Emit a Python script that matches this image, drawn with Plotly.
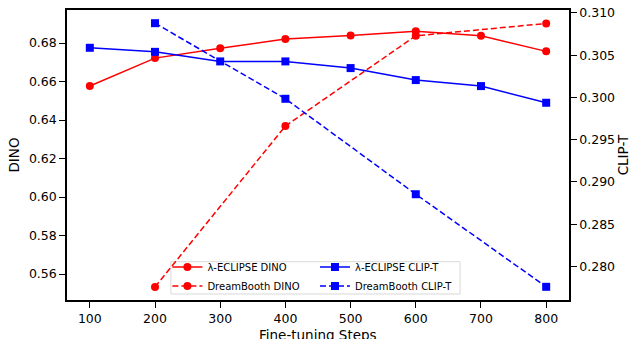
import plotly.graph_objects as go

steps_all = [100, 200, 300, 400, 500, 600, 700, 800]
steps_db = [200, 400, 600, 800]

eclipse_dino = [0.6577, 0.6722, 0.6773, 0.6821, 0.6840, 0.6861, 0.6838, 0.6757]
dreambooth_dino = [0.5533, 0.6369, 0.6838, 0.6902]
eclipse_clipt = [0.30587, 0.30539, 0.30426, 0.30426, 0.30347, 0.30205, 0.30134, 0.29937]
dreambooth_clipt = [0.30878, 0.29984, 0.28855, 0.2776]

x_ticks = [100, 200, 300, 400, 500, 600, 700, 800]
dino_ticks = [0.56, 0.58, 0.60, 0.62, 0.64, 0.66, 0.68]
clip_ticks = [0.280, 0.285, 0.290, 0.295, 0.300, 0.305, 0.310]

RED = "#ff0000"
BLUE = "#0000ff"
FONT = "DejaVu Sans"

fig = go.Figure()
fig.add_trace(go.Scatter(x=steps_all, y=eclipse_dino, name="λ-ECLIPSE DINO", mode="lines+markers",
                         line=dict(color=RED, width=1.5), marker=dict(symbol="circle", size=8, color=RED),
                         legend="legend"))
fig.add_trace(go.Scatter(x=steps_db, y=dreambooth_dino, name="DreamBooth DINO", mode="lines+markers",
                         line=dict(color=RED, width=1.5, dash="6px,3px"), marker=dict(symbol="circle", size=8, color=RED),
                         legend="legend"))
fig.add_trace(go.Scatter(x=steps_all, y=eclipse_clipt, name="λ-ECLIPSE CLIP-T", mode="lines+markers",
                         line=dict(color=BLUE, width=1.5), marker=dict(symbol="square", size=8, color=BLUE),
                         yaxis="y2", legend="legend2"))
fig.add_trace(go.Scatter(x=steps_db, y=dreambooth_clipt, name="DreamBooth CLIP-T", mode="lines+markers",
                         line=dict(color=BLUE, width=1.5, dash="6px,3px"), marker=dict(symbol="square", size=8, color=BLUE),
                         yaxis="y2", legend="legend2"))

axis_common = dict(showgrid=False, zeroline=False, showline=True, linecolor="black", linewidth=1.5,
                   ticks="outside", ticklen=6, tickwidth=1.3, tickcolor="black", automargin=False,
                   tickfont=dict(family=FONT, size=12.5, color="black"))

fig.update_layout(
    width=634, height=339,
    margin=dict(l=67, r=65, t=10, b=39, autoexpand=False),
    plot_bgcolor="white", paper_bgcolor="white",
    font=dict(family=FONT, color="black"),
    showlegend=True,
    xaxis=dict(range=[65, 835], tickvals=x_ticks, mirror=True, **axis_common),
    yaxis=dict(range=[0.5465, 0.6972], tickvals=dino_ticks, tickformat=".2f",
               title=dict(text="DINO", font=dict(family=FONT, size=13.5), standoff=6),
               **axis_common),
    yaxis2=dict(range=[0.27604, 0.31034], tickvals=clip_ticks, tickformat=".3f",
                overlaying="y", side="right",
                title=dict(text="CLIP-T", font=dict(family=FONT, size=13.5), standoff=4),
                **axis_common),
    legend=dict(x=0.200, y=0.164, xanchor="left", yanchor="top", bgcolor="rgba(0,0,0,0)",
                font=dict(family=FONT, size=10), tracegroupgap=0, itemwidth=30),
    legend2=dict(x=0.494, y=0.164, xanchor="left", yanchor="top", bgcolor="rgba(0,0,0,0)",
                 font=dict(family=FONT, size=10), tracegroupgap=0, itemwidth=30),
    shapes=[dict(type="rect", xref="paper", yref="paper", x0=0.207, x1=0.783, y0=0.0207, y1=0.132,
                 line=dict(color="#d9d9d9", width=1), fillcolor="rgba(255,255,255,0.8)", layer="below")],
    annotations=[dict(text="Fine-tuning Steps", xref="paper", yref="paper", x=0.5, y=0,
                      xanchor="center", yanchor="top", yshift=-24.5, showarrow=False,
                      font=dict(family=FONT, size=13.5, color="black"))],
)

fig.write_html("out.html", config={"displayModeBar": False},
               post_script="document.body.style.margin='0';document.body.style.overflow='hidden';")
